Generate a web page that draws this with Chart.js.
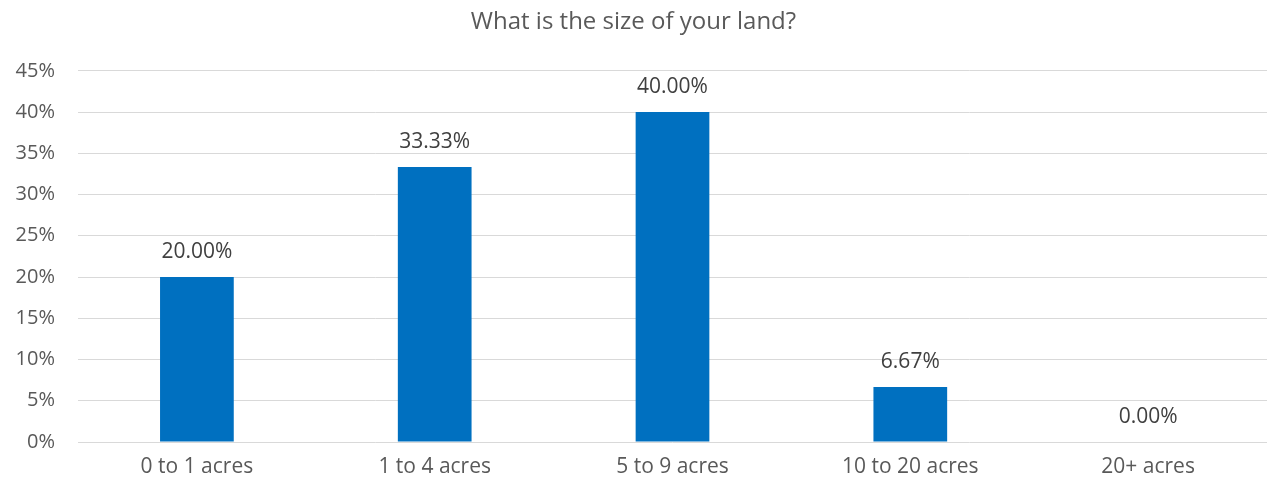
<!DOCTYPE html>
<html>
<head>
<meta charset="utf-8">
<script src="https://cdn.jsdelivr.net/npm/chart.js@4"></script>
<style>
  html, body { margin: 0; padding: 0; background: #fff; }
  #wrap { width: 1267px; height: 487px; }
</style>
</head>
<body>
<div id="wrap"><canvas id="grafico" width="1267" height="487"></canvas></div>
<script>
// datos
const categorias = ['0 to 1 acres', '1 to 4 acres', '5 to 9 acres', '10 to 20 acres', '20+ acres'];
const porcentajes = [20.00, 33.33, 40.00, 6.67, 0.00];
const ticksY = [0, 5, 10, 15, 20, 25, 30, 35, 40, 45];

const fuente = '"Open Sans", "Noto Sans", sans-serif';

// etiquetas encima de cada barra
const etiquetasBarras = {
    id: 'etiquetasBarras',
    afterDatasetsDraw(chart) {
        const ctx = chart.ctx;
        const meta = chart.getDatasetMeta(0);
        ctx.save();
        ctx.font = '21px ' + fuente;
        ctx.fillStyle = '#404040';
        ctx.textAlign = 'center';
        ctx.textBaseline = 'alphabetic';
        meta.data.forEach((barra, i) => {
            ctx.fillText(porcentajes[i].toFixed(2) + '%', barra.x, barra.y - 19);
        });
        ctx.restore();
    }
};

const config = {
    type: 'bar',
    data: {
        labels: categorias,
        datasets: [{
            data: porcentajes,
            backgroundColor: '#0070c0',
            categoryPercentage: 1,
            barPercentage: 0.31
        }]
    },
    options: {
        responsive: false,
        animation: false,
        layout: { padding: 0 },
        plugins: {
            legend: { display: false },
            tooltip: { enabled: false },
            title: {
                display: true,
                text: 'What is the size of your land?',
                color: '#595959',
                font: { family: fuente, size: 24, weight: 'normal' },
                padding: { top: 8, bottom: 34 }
            }
        },
        scales: {
            x: {
                grid: { display: false },
                border: { display: false },
                afterFit(axis) { axis.height = 45; },
                ticks: {
                    color: '#595959',
                    font: { family: fuente, size: 21 },
                    padding: 4
                }
            },
            y: {
                min: 0,
                max: 45,
                afterBuildTicks(axis) {
                    axis.ticks = ticksY.map(v => ({ value: v }));
                },
                afterFit(axis) { axis.width = 78; },
                grid: { color: '#d9d9d9', lineWidth: 1, drawTicks: false },
                border: { display: false },
                ticks: {
                    color: '#595959',
                    font: { family: fuente, size: 20 },
                    padding: 23,
                    callback: v => v + '%'
                }
            }
        }
    },
    plugins: [etiquetasBarras]
};

const ctx = document.getElementById('grafico').getContext('2d');
const myChart = new Chart(ctx, config);
</script>
</body>
</html>
